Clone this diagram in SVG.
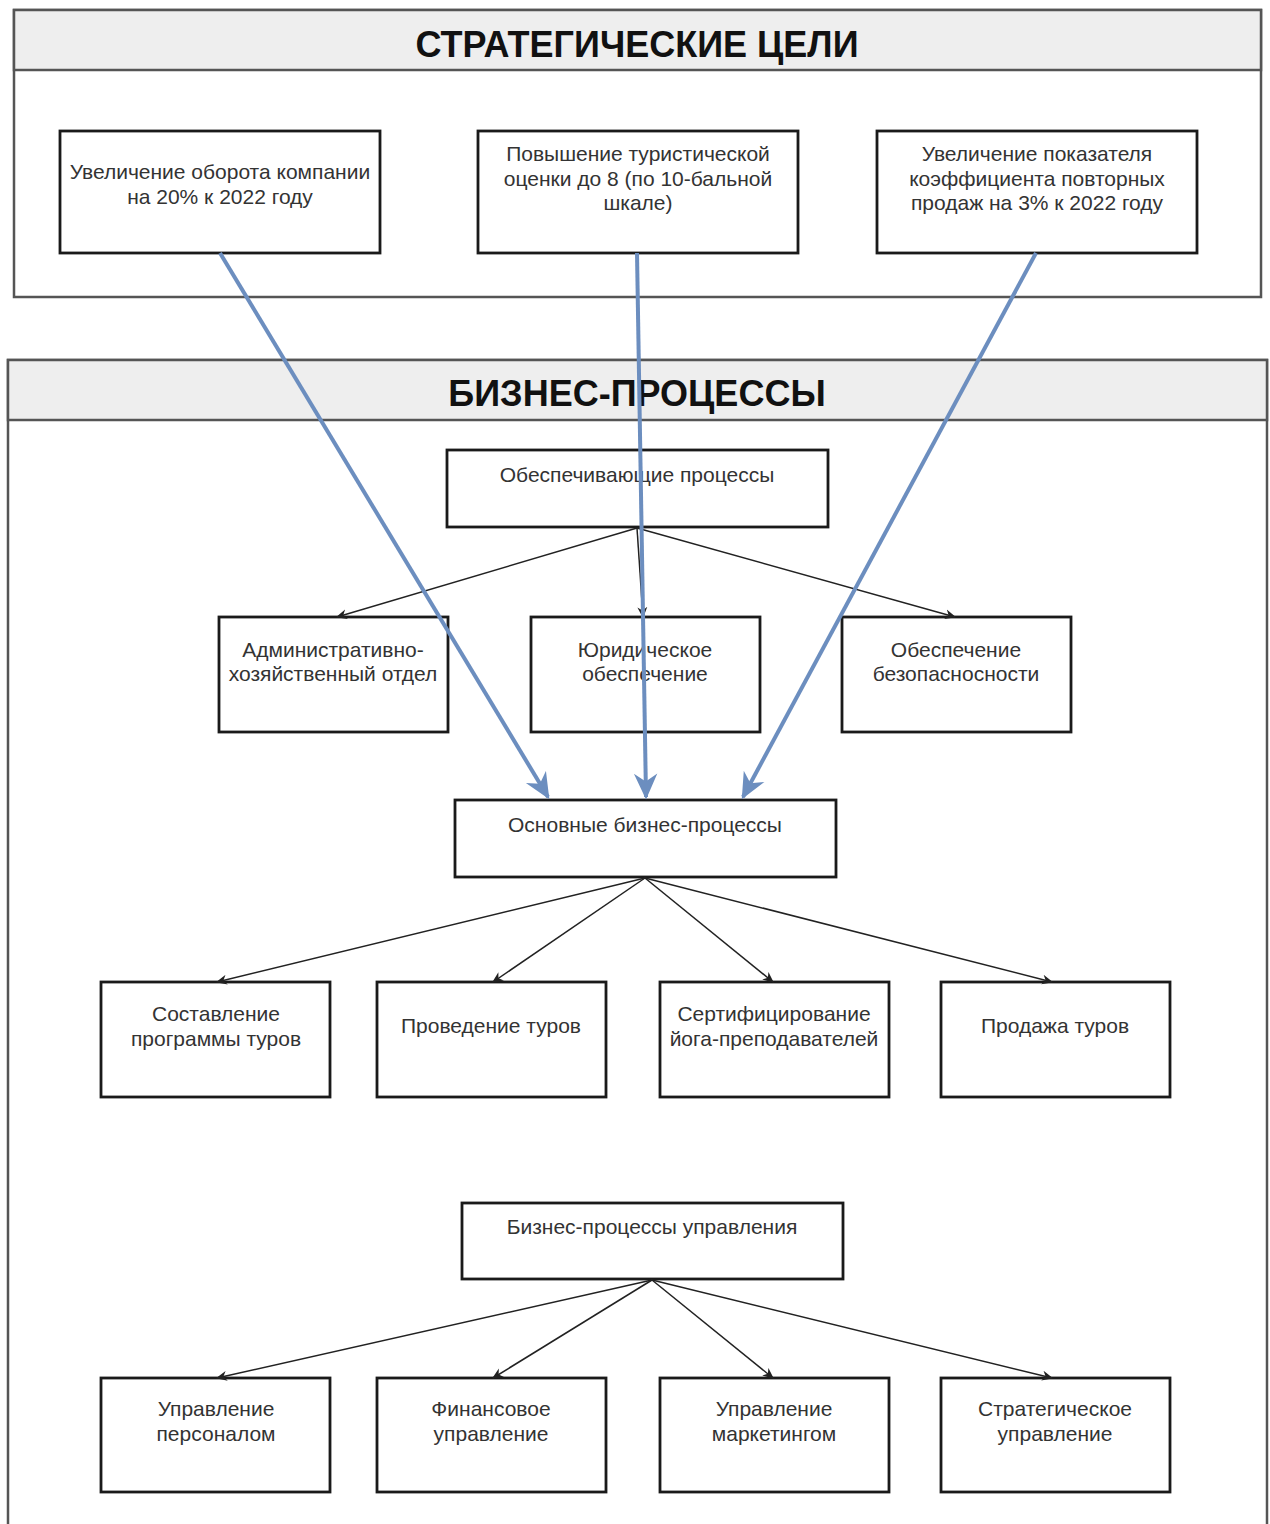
<svg xmlns="http://www.w3.org/2000/svg" width="1270" height="1524" viewBox="0 0 1270 1524">
  <defs>
    <style>
      .container { fill: #ffffff; stroke: #555555; stroke-width: 2.5; }
      .band { fill: #eeeeee; stroke: #555555; stroke-width: 2.5; }
      .title { font-family: "Liberation Sans", Arial, sans-serif; font-size: 36px; font-weight: bold; fill: #111111; text-anchor: middle; }
      .box { fill: #ffffff; stroke: #1a1a1a; stroke-width: 2.8; }
      .label { font-family: "Liberation Sans", Arial, sans-serif; font-size: 21px; fill: #333333; text-anchor: middle; }
      .link { fill: none; stroke: #222222; stroke-width: 1.5; }
      .goal-link { fill: none; stroke: #6c8ebf; stroke-width: 4; }
    </style>
    <marker id="head" viewBox="0 0 10 10" refX="9" refY="5" markerWidth="11" markerHeight="11" markerUnits="userSpaceOnUse" orient="auto">
      <path d="M0,0.5 L10,5 L0,9.5 L3,5 Z" fill="#222222"/>
    </marker>
    <marker id="goal-head" viewBox="0 0 10 10" refX="9" refY="5" markerWidth="6.5" markerHeight="6.5" orient="auto">
      <path d="M0,0.5 L10,5 L0,9.5 L3,5 Z" fill="#6c8ebf"/>
    </marker>
  </defs>

  <rect width="1270" height="1524" fill="#ffffff"/>

  <!-- Strategic goals pool -->
  <g id="pool-goals">
    <rect class="container" x="14" y="10" width="1247" height="287"/>
    <rect class="band" x="14" y="10" width="1247" height="60"/>
    <text class="title" x="637" y="57">СТРАТЕГИЧЕСКИЕ ЦЕЛИ</text>
  </g>

  <!-- Business processes pool -->
  <g id="pool-processes">
    <rect class="container" x="8" y="360" width="1259" height="1180"/>
    <rect class="band" x="8" y="360" width="1259" height="60"/>
    <text class="title" x="637" y="406">БИЗНЕС-ПРОЦЕССЫ</text>
  </g>

  <g id="goal-turnover">
    <rect class="box" x="60" y="131" width="320" height="122"/>
    <text class="label" x="220" y="179">Увеличение оборота компании</text>
    <text class="label" x="220" y="204">на 20% к 2022 году</text>
  </g>
  <g id="goal-rating">
    <rect class="box" x="478" y="131" width="320" height="122"/>
    <text class="label" x="638" y="161">Повышение туристической</text>
    <text class="label" x="638" y="186">оценки до 8 (по 10-бальной</text>
    <text class="label" x="638" y="210">шкале)</text>
  </g>
  <g id="goal-repeat">
    <rect class="box" x="877" y="131" width="320" height="122"/>
    <text class="label" x="1037" y="161">Увеличение показателя</text>
    <text class="label" x="1037" y="186">коэффициента повторных</text>
    <text class="label" x="1037" y="210">продаж на 3% к 2022 году</text>
  </g>

  <g id="support">
    <rect class="box" x="447" y="450" width="381" height="77"/>
    <text class="label" x="637" y="482">Обеспечивающие процессы</text>
  </g>
  <g id="admin">
    <rect class="box" x="219" y="617" width="229" height="115"/>
    <text class="label" x="333" y="657">Административно-</text>
    <text class="label" x="333" y="681">хозяйственный отдел</text>
  </g>
  <g id="legal">
    <rect class="box" x="531" y="617" width="229" height="115"/>
    <text class="label" x="645" y="657">Юридическое</text>
    <text class="label" x="645" y="681">обеспечение</text>
  </g>
  <g id="security">
    <rect class="box" x="842" y="617" width="229" height="115"/>
    <text class="label" x="956" y="657">Обеспечение</text>
    <text class="label" x="956" y="681">безопасносности</text>
  </g>

  <g id="core">
    <rect class="box" x="455" y="800" width="381" height="77"/>
    <text class="label" x="645" y="832">Основные бизнес-процессы</text>
  </g>
  <g id="tour-program">
    <rect class="box" x="101" y="982" width="229" height="115"/>
    <text class="label" x="216" y="1021">Составление</text>
    <text class="label" x="216" y="1046">программы туров</text>
  </g>
  <g id="tour-run">
    <rect class="box" x="377" y="982" width="229" height="115"/>
    <text class="label" x="491" y="1033">Проведение туров</text>
  </g>
  <g id="yoga-cert">
    <rect class="box" x="660" y="982" width="229" height="115"/>
    <text class="label" x="774" y="1021">Сертифицирование</text>
    <text class="label" x="774" y="1046">йога-преподавателей</text>
  </g>
  <g id="tour-sales">
    <rect class="box" x="941" y="982" width="229" height="115"/>
    <text class="label" x="1055" y="1033">Продажа туров</text>
  </g>

  <g id="management">
    <rect class="box" x="462" y="1203" width="381" height="76"/>
    <text class="label" x="652" y="1234">Бизнес-процессы управления</text>
  </g>
  <g id="hr">
    <rect class="box" x="101" y="1378" width="229" height="114"/>
    <text class="label" x="216" y="1416">Управление</text>
    <text class="label" x="216" y="1441">персоналом</text>
  </g>
  <g id="finance">
    <rect class="box" x="377" y="1378" width="229" height="114"/>
    <text class="label" x="491" y="1416">Финансовое</text>
    <text class="label" x="491" y="1441">управление</text>
  </g>
  <g id="marketing">
    <rect class="box" x="660" y="1378" width="229" height="114"/>
    <text class="label" x="774" y="1416">Управление</text>
    <text class="label" x="774" y="1441">маркетингом</text>
  </g>
  <g id="strategy">
    <rect class="box" x="941" y="1378" width="229" height="114"/>
    <text class="label" x="1055" y="1416">Стратегическое</text>
    <text class="label" x="1055" y="1441">управление</text>
  </g>

  <!-- Connectors -->
  <g id="connectors">
    <path class="link" d="M637,528 L337,617" marker-end="url(#head)"/>
    <path class="link" d="M637,528 L643,617" marker-end="url(#head)"/>
    <path class="link" d="M637,528 L955,617" marker-end="url(#head)"/>

    <path class="link" d="M645,878 L217,982" marker-end="url(#head)"/>
    <path class="link" d="M645,878 L493,982" marker-end="url(#head)"/>
    <path class="link" d="M645,878 L773,982" marker-end="url(#head)"/>
    <path class="link" d="M645,878 L1052,982" marker-end="url(#head)"/>

    <path class="link" d="M652,1280 L217,1378" marker-end="url(#head)"/>
    <path class="link" d="M652,1280 L493,1378" marker-end="url(#head)"/>
    <path class="link" d="M652,1280 L773,1378" marker-end="url(#head)"/>
    <path class="link" d="M652,1280 L1052,1378" marker-end="url(#head)"/>

    <path class="goal-link" d="M220,253 L548,797" marker-end="url(#goal-head)"/>
    <path class="goal-link" d="M637,253 L646,797" marker-end="url(#goal-head)"/>
    <path class="goal-link" d="M1036,253 L743,797" marker-end="url(#goal-head)"/>
  </g>
</svg>
